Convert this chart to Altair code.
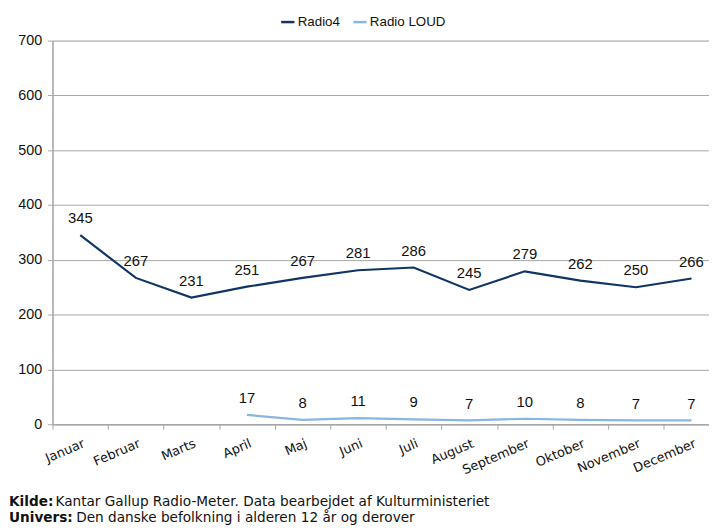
import altair as alt
import pandas as pd

months = ["Januar", "Februar", "Marts", "April", "Maj", "Juni", "Juli",
          "August", "September", "Oktober", "November", "December"]
radio4 = [345, 267, 231, 251, 267, 281, 286, 245, 279, 262, 250, 266]
loud_months = months[3:]
radio_loud = [17, 8, 11, 9, 7, 10, 8, 7, 7]
series_names = ["Radio4", "Radio LOUD"]
series_colors = ["#0E3564", "#8AB4E2"]
y_ticks = [0, 100, 200, 300, 400, 500, 600, 700]

rows = [{"month": m, "value": v, "series": "Radio4"} for m, v in zip(months, radio4)]
rows += [{"month": m, "value": v, "series": "Radio LOUD"} for m, v in zip(loud_months, radio_loud)]
df = pd.DataFrame(rows)

W, H = 664, 388
step = 56.2
x_scale = alt.Scale(type="band", domain=months, range=[0, step * 12], paddingInner=0, paddingOuter=0)
y_scale = alt.Scale(domain=[0, 700], nice=False)

base = alt.Chart(df).encode(
    x=alt.X("month:N", scale=x_scale, sort=months,
            axis=alt.Axis(title=None, labelAngle=-23, labelAlign="right", labelBaseline="top",
                          labelFont="DejaVu Sans", labelFontSize=13, labelColor="#111",
                          labelPadding=8, tickBand="extent", tickColor="#a6a6a6", tickSize=5,
                          domainColor="#a6a6a6", domainWidth=1.5, grid=False, labelOverlap=False,
                          labelOffset=1)),
    y=alt.Y("value:Q", scale=y_scale,
            axis=alt.Axis(title=None, values=y_ticks, labelFont="Liberation Sans", labelFontSize=14.5,
                          labelColor="#111", labelPadding=6, tickColor="#a6a6a6", tickSize=5,
                          domainColor="#a6a6a6", domainWidth=1.5, gridColor="#a6a6a6", gridWidth=1)),
    color=alt.Color("series:N", scale=alt.Scale(domain=series_names, range=series_colors),
                    legend=alt.Legend(title=None, orient="none", direction="horizontal",
                                      legendX=230, legendY=-27, symbolType="stroke",
                                      symbolStrokeWidth=2.5, symbolSize=180,
                                      labelFont="Liberation Sans", labelFontSize=13.5,
                                      labelColor="#111", columnPadding=8, symbolOffset=0,
                                      labelOffset=2)),
)

lines = base.mark_line(strokeWidth=2.2).encode(
    strokeWidth=alt.condition(alt.datum.series == "Radio LOUD", alt.value(2.8), alt.value(2.2))
)
labels = base.mark_text(dy=-17, font="Liberation Sans", fontSize=15, color="#111").encode(
    text="value:Q", color=alt.value("#111")
)

FS = 13.8
foot1b = alt.Chart(pd.DataFrame({"t": ["Kilde:"]})).mark_text(
    align="left", baseline="alphabetic", font="DejaVu Sans", fontSize=FS, fontWeight="bold", color="#111"
).encode(text="t:N", x=alt.value(-44), y=alt.value(471))
foot1 = alt.Chart(pd.DataFrame({"t": ["Kantar Gallup Radio-Meter. Data bearbejdet af Kulturministeriet"]})).mark_text(
    align="left", baseline="alphabetic", font="DejaVu Sans", fontSize=FS, color="#111"
).encode(text="t:N", x=alt.value(3), y=alt.value(471))
foot2b = alt.Chart(pd.DataFrame({"t": ["Univers:"]})).mark_text(
    align="left", baseline="alphabetic", font="DejaVu Sans", fontSize=FS, fontWeight="bold", color="#111"
).encode(text="t:N", x=alt.value(-44), y=alt.value(487))
foot2 = alt.Chart(pd.DataFrame({"t": ["Den danske befolkning i alderen 12 år og derover"]})).mark_text(
    align="left", baseline="alphabetic", font="DejaVu Sans", fontSize=FS, color="#111"
).encode(text="t:N", x=alt.value(24), y=alt.value(487))

chart = alt.layer(lines, labels, foot1b, foot1, foot2b, foot2).properties(
    width=W, height=H,
    autosize=alt.AutoSizeParams(type="none"),
    padding={"left": 45, "top": 30, "right": 0, "bottom": 104},
).configure_view(stroke=None).configure(background="white")

chart.save("out.html", embed_options={"renderer": "svg", "actions": False})
